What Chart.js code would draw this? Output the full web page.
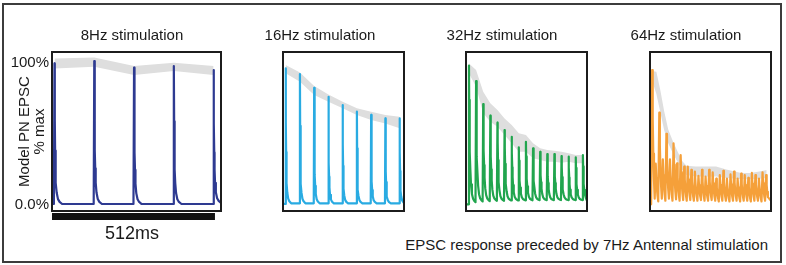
<!DOCTYPE html>
<html>
<head>
<meta charset="utf-8">
<script src="https://cdn.jsdelivr.net/npm/chart.js@4.4.1/dist/chart.umd.min.js"></script>
<style>
  body { margin: 0; width: 786px; height: 265px; background: #fff; position: relative; overflow: hidden;
         font-family: "Liberation Sans", Arial, sans-serif; color: #1a1a1a; }
  .frame { position: absolute; left: 2px; top: 3px; width: 776px; height: 256px; border: 2px solid #3c3c3c; }
  canvas { position: absolute; top: 0; }
  .lbl { position: absolute; white-space: nowrap; font-size: 15px; line-height: 18px; }
  .ttl { top: 26px; transform: translateX(-50%); }
</style>
</head>
<body>
<div class="frame"></div>
<canvas id="p8" width="225" height="225" style="left:0px"></canvas>
<canvas id="p16" width="177" height="225" style="left:231px"></canvas>
<canvas id="p32" width="177" height="225" style="left:414px"></canvas>
<canvas id="p64" width="177" height="225" style="left:598px"></canvas>

<div class="lbl ttl" style="left:132px">8Hz stimulation</div>
<div class="lbl ttl" style="left:320px">16Hz stimulation</div>
<div class="lbl ttl" style="left:502px">32Hz stimulation</div>
<div class="lbl ttl" style="left:686px">64Hz stimulation</div>
<div class="lbl" style="left:132px; top:223px; font-size:18px; line-height:20px; transform:translateX(-50%)">512ms</div>
<div class="lbl" style="right:18px; top:236px">EPSC response preceded by 7Hz Antennal stimulation</div>

<script>
// time axis in ms, response in % of max
const X_MAX = 531;
const Y_MIN = -4.2;
const Y_MAX = 107.4;
const Y_TICKS = [0, 100];
const Y_TICK_LABELS = ['0.0%', '100%'];
const SCALE_BAR_MS = [0, 512];

// peak of each EPSC, value at each stimulus onset (+ tail), grey envelope
const PEAKS_8 = [99.4, 101, 96.4, 97.5, 94.7];
const TROUGHS_8 = [0.7, 0.7, 0.7, 0.7, 0.7, 1.5];
const BAND_8_HI = [102.9, 103.6, 97.5, 99.8, 97.5];
const BAND_8_LO = [95.9, 97.1, 91.2, 94, 91.2];

const PEAKS_16 = [95.9, 91.9, 82.3, 76, 70.2, 65.5, 63.2, 60.8, 60.8];
const TROUGHS_16 = [0.8, 1.2, 1.2, 1.2, 1.2, 1.2, 1.2, 1.2, 1.2, 1.2];
const BAND_16_HI = [98.2, 93, 83.5, 77.5, 72.5, 68, 65.5, 63.2, 62];
const BAND_16_LO = [92.4, 86.5, 77.2, 72.5, 67.9, 63.2, 59.6, 57.3, 53.8];

const PEAKS_32 = [97.8, 87, 70.9, 62.7, 57.8, 52.6, 47.9, 40.5, 44.4, 39.8, 37.4, 35.8, 35.8, 34.4, 33.9, 33.5, 35.1];
const TROUGHS_32 = [0.5, 2, 2.5, 2.8, 3, 3, 3.2, 3.2, 3.3, 3.3, 3.4, 3.4, 3.4, 3.5, 3.5, 3.5, 3.5, 3];
const BAND_32_HI = [99.4, 94.7, 79.5, 71.4, 66.7, 60.8, 56.1, 50.3, 49.1, 43.3, 39.8, 38.6, 38.1, 37.4, 36.3, 35.1, 35.1];
const BAND_32_LO = [92.4, 83, 64.4, 58.5, 54.9, 49.1, 43.3, 37.4, 37.4, 32.8, 31.6, 30.4, 30.4, 29.7, 30.4, 29.3, 29.3];

const PEAKS_64 = [94.7, 29, 64.8, 32, 50, 32, 43.3, 29.2, 35.1, 26.9, 27, 24.6, 23.4, 20.5, 24.6, 20, 24.6,
                  23, 18.5, 21, 24, 18.5, 21.5, 23.5, 18.5, 22, 21, 19, 22.5, 21, 18.5, 23, 21];
const TROUGHS_64 = [0.5, 4.5, 2.5, 4.5, 3, 4.5, 3, 4, 3, 3.5, 3, 3.5, 3, 3, 3.5, 3, 3, 3.5, 3, 2.5, 3, 3,
                    2.5, 3, 3, 2.5, 3, 3, 2.5, 3, 3, 2.5, 3, 3];
const BAND_64_T = [8, 28, 46, 62, 80, 100, 120, 140, 160, 200, 290, 335, 400, 440, 480, 512];
const BAND_64_HI = [94, 93.5, 80, 66, 53, 45, 38, 31, 27.5, 27, 27, 25, 22.5, 22.5, 23.5, 24.5];
const BAND_64_LO = [88, 78, 64.5, 52.6, 43.3, 36.5, 30.5, 25, 21, 20, 20, 19, 18, 18, 18.5, 19];

// decay shape after the peak: [ms after peak, fraction of amplitude left]
const DECAY_FAST = [[1, 0.6], [2, 0.38], [3, 0.25], [4.5, 0.15], [7, 0.08], [11, 0.035], [16, 0.015], [24, 0]];
const DECAY_32 = [[1, 0.75], [2.5, 0.52], [4, 0.37], [6, 0.24], [9, 0.13], [13, 0.06], [18, 0.025], [24, 0.008]];
const DECAY_64 = [[2.5, 0.62], [5, 0.35], [8, 0.14]];

const PANELS = [
  { id: 'p8', freq: 8, onset: 6, rise: 1.8, peaks: PEAKS_8, troughs: TROUGHS_8, decay: DECAY_FAST,
    hi: BAND_8_HI, lo: BAND_8_LO, bandT: null, color: '#2e3a91', axis: true },
  { id: 'p16', freq: 16, onset: 10, rise: 1.8, peaks: PEAKS_16, troughs: TROUGHS_16, decay: DECAY_FAST,
    hi: BAND_16_HI, lo: BAND_16_LO, bandT: null, color: '#29abe2', axis: false },
  { id: 'p32', freq: 32, onset: 10.5, rise: 2.5, peaks: PEAKS_32, troughs: TROUGHS_32, decay: DECAY_32,
    hi: BAND_32_HI, lo: BAND_32_LO, bandT: null, color: '#21a54e', axis: false },
  { id: 'p64', freq: 64, onset: 5, rise: 4.5, peaks: PEAKS_64, troughs: TROUGHS_64, decay: DECAY_64,
    hi: BAND_64_HI, lo: BAND_64_LO, bandT: BAND_64_T, color: '#f5a03a', axis: false }
];

function buildTrace(p) {
  const period = 1000 / p.freq;
  const pts = [{ x: 0, y: p.troughs[0] }];
  p.peaks.forEach(function (peak, i) {
    const t0 = p.onset + i * period;
    const tp = t0 + p.rise;
    const next = i + 1 < p.peaks.length ? t0 + period : X_MAX;
    const floor = p.troughs[i + 1];
    if (i === 0) pts.push({ x: t0, y: p.troughs[0] });
    pts.push({ x: tp, y: peak });
    p.decay.forEach(function (d) {
      if (tp + d[0] < next) pts.push({ x: tp + d[0], y: floor + (peak - floor) * d[1] });
    });
    pts.push({ x: next, y: floor });
  });
  return pts;
}

function bandTimes(p) {
  if (p.bandT) return p.bandT;
  const period = 1000 / p.freq;
  return p.peaks.map(function (v, i) { return p.onset + p.rise + i * period; });
}

const boxFrame = {
  id: 'boxFrame',
  afterDraw(chart) {
    const { ctx, chartArea: a } = chart;
    ctx.save();
    ctx.strokeStyle = '#1c1c1c';
    ctx.lineWidth = 2;
    ctx.strokeRect(a.left, a.top, a.right - a.left, a.bottom - a.top);
    ctx.restore();
  }
};

const scaleBar = {
  id: 'scaleBar',
  afterDraw(chart) {
    if (chart.canvas.id !== 'p8') return;
    const { ctx, chartArea: a } = chart;
    const x = chart.scales.x;
    const x0 = x.getPixelForValue(SCALE_BAR_MS[0]);
    const x1 = x.getPixelForValue(SCALE_BAR_MS[1]);
    ctx.save();
    ctx.fillStyle = '#111';
    ctx.fillRect(x0, a.bottom + 2, x1 - x0, 7);
    ctx.restore();
  }
};

PANELS.forEach(function (p) {
  const times = bandTimes(p);
  new Chart(document.getElementById(p.id), {
    type: 'line',
    data: {
      datasets: [{
        data: buildTrace(p),
        borderColor: p.color,
        borderWidth: 2.2,
        borderJoinStyle: 'round',
        pointRadius: 0,
        tension: 0,
        fill: false
      }, {
        data: p.hi.map(function (v, i) { return { x: times[i], y: v }; }),
        borderWidth: 0,
        borderColor: 'rgba(0,0,0,0)',
        pointRadius: 0,
        fill: false
      }, {
        data: p.lo.map(function (v, i) { return { x: times[i], y: v }; }),
        borderWidth: 0,
        borderColor: 'rgba(0,0,0,0)',
        backgroundColor: '#dedede',
        pointRadius: 0,
        fill: '-1'
      }]
    },
    options: {
      responsive: false,
      animation: false,
      events: [],
      layout: { padding: { left: 4, right: 4, top: 52, bottom: 14 } },
      plugins: { legend: { display: false }, tooltip: { enabled: false } },
      scales: {
        x: { type: 'linear', min: 0, max: X_MAX, display: false },
        y: {
          min: Y_MIN,
          max: Y_MAX,
          display: p.axis,
          grid: { display: false, drawTicks: false },
          border: { display: false },
          afterBuildTicks: function (s) { s.ticks = Y_TICKS.map(function (v) { return { value: v }; }); },
          afterFit: function (s) { s.width = 48; s.paddingTop = 0; s.paddingBottom = 0; },
          ticks: {
            padding: 3,
            color: '#1a1a1a',
            font: { family: '"Liberation Sans", Arial, sans-serif', size: 15 },
            callback: function (v, i) { return Y_TICK_LABELS[i]; }
          },
          title: {
            display: true,
            text: ['Model PN EPSC', '% max'],
            color: '#1a1a1a',
            font: { family: '"Liberation Sans", Arial, sans-serif', size: 15, lineHeight: 1 },
            padding: { top: 13.5, bottom: 0 }
          }
        }
      }
    },
    plugins: [boxFrame, scaleBar]
  });
});
</script>
</body>
</html>
